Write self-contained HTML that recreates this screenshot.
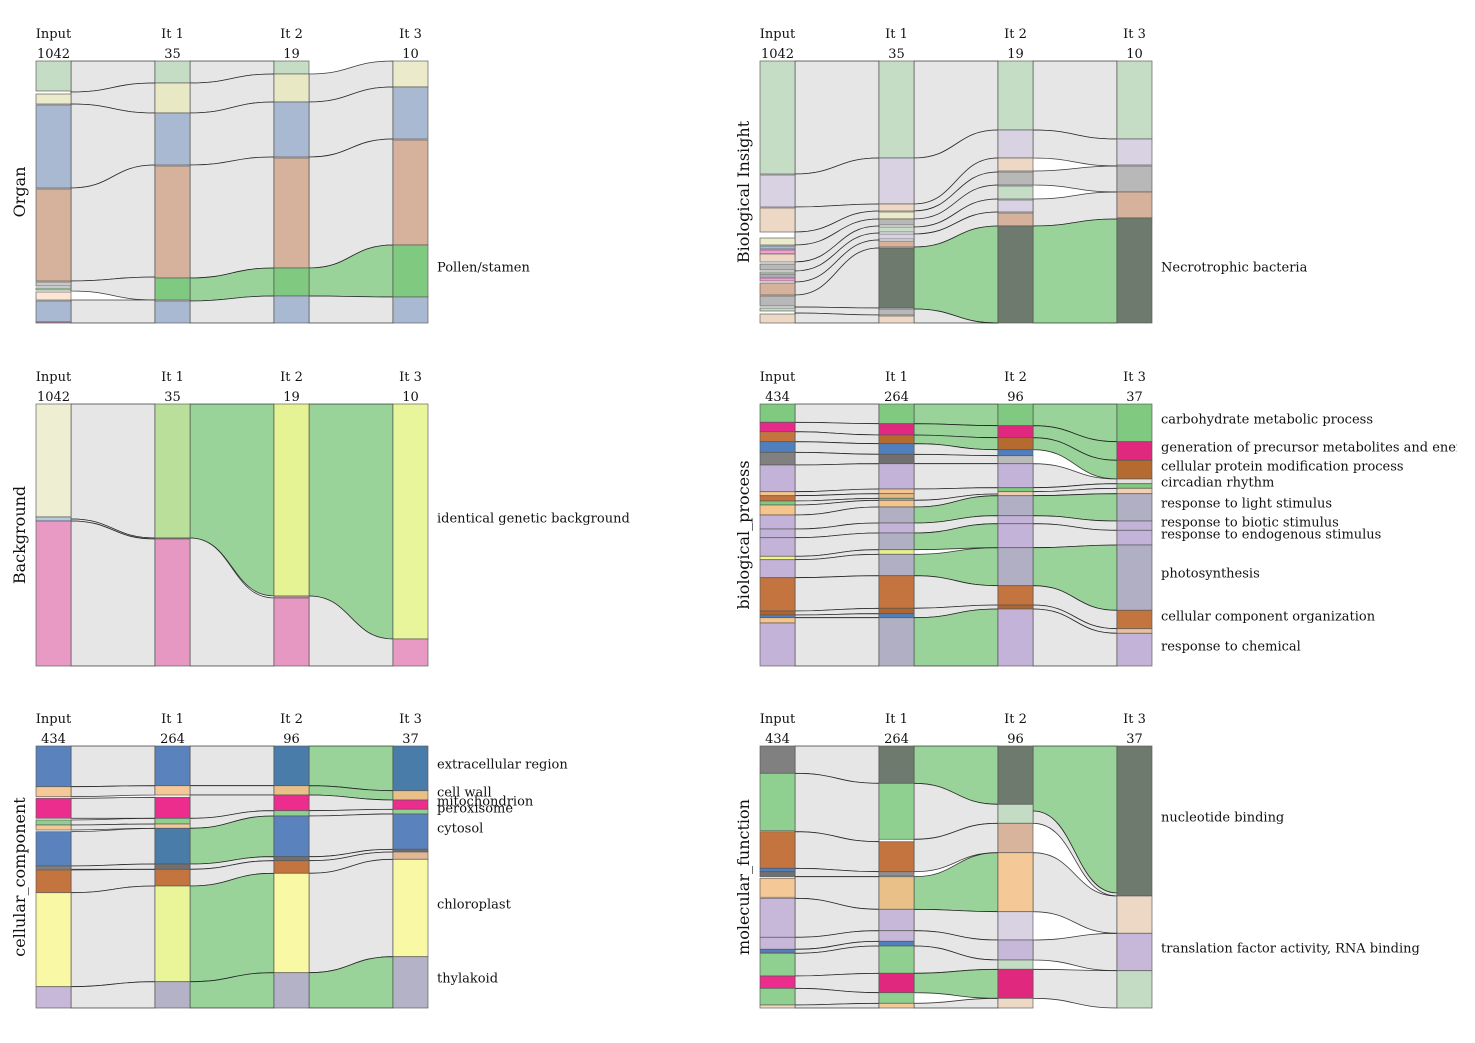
<!DOCTYPE html>
<html><head><meta charset="utf-8"><style>
html,body{margin:0;padding:0;background:#fff;}
svg{display:block;font-family:"DejaVu Serif","Liberation Serif",serif;}
</style></head><body>
<svg id="fig" width="1475" height="1043" viewBox="0 0 1475 1043" xmlns="http://www.w3.org/2000/svg"></svg>
<script>
// ---- data (units: share of column height, 262 = full column) ----
const headers = ["Input","It 1","It 2","It 3"];
const countsA = [1042,35,19,10];
const countsB = [434,264,96,37];

// Panel 1: Organ
const organCols = [
 [[0,30,'#c5dcc5'],[33,43,'#ebebcb'],[44,127,'#a9b9d1'],[128,220,'#d6b29c'],[221,225,'#c8c8c8'],[227,229,'#a8d8a8'],[231,239,'#fde6d6'],[240,261,'#a9b9d1'],[261,262,'#e89ac4']],
 [[0,22,'#c5dcc5'],[22,52,'#e9e8c5'],[52,104,'#a9b9d1'],[105,217,'#d6b29c'],[217,239,'#80c980'],[240,262,'#a9b9d1']],
 [[0,13,'#c5dcc5'],[13,41,'#e9e8c5'],[41,96,'#a9b9d1'],[97,207,'#d6b29c'],[207,235,'#80c980'],[235,262,'#a9b9d1']],
 [[0,26,'#ebebcb'],[26,78,'#a9b9d1'],[79,184,'#d6b29c'],[184,236,'#80c980'],[236,262,'#a9b9d1']]];
const organFlows = [
 [0,0,31,0,22,0],[0,31,43,22,52,0],[0,43,127,52,104,0],[0,127,220,104,216,0],[0,220,230,216,239,0],[0,239,262,239,262,0],
 [1,0,22,0,13,0],[1,22,52,13,41,0],[1,52,104,41,96,0],[1,104,217,96,207,0],[1,217,240,207,235,1],[1,240,262,235,262,0],
 [2,13,41,0,26,0],[2,41,96,26,78,0],[2,96,207,78,184,0],[2,207,235,184,236,1],[2,235,262,236,262,0]];
const organLabels = [["Pollen/stamen",206]];

// Panel 2: Biological Insight
const insightCols = [
 [[0,113,'#c5dcc5'],[114,146,'#d8d2e2'],[147,171,'#ecd8c4'],[177,184,'#ebebcb'],[185,188,'#a9b9d1'],[189,193,'#f4a0cf'],[193,201,'#ecd8c4'],[203,209,'#b8b8b8'],[211,213,'#c5dcc5'],[214,216,'#d8d2e2'],[217,220,'#f4a0cf'],[222,234,'#d6b29c'],[235,245,'#b8b8b8'],[247,250,'#c5dcc5'],[253,262,'#ecd8c4']],
 [[0,97,'#c5dcc5'],[97,143,'#d8d2e2'],[143,150,'#ecd8c4'],[151,158,'#ebebcb'],[158,164,'#b8b8b8'],[166,171,'#c5dcc5'],[173,178,'#d8d2e2'],[180,186,'#d6b29c'],[187,247,'#6e7a6e'],[248,254,'#b8b8b8'],[255,262,'#ecd8c4']],
 [[0,69,'#c5dcc5'],[69,97,'#d8d2e2'],[97,110,'#ecd8c4'],[111,124,'#b8b8b8'],[125,138,'#c5dcc5'],[139,151,'#d8d2e2'],[152,165,'#d6b29c'],[165,262,'#6e7a6e']],
 [[0,78,'#c5dcc5'],[78,104,'#d8d2e2'],[105,131,'#b8b8b8'],[131,157,'#d6b29c'],[157,262,'#6e7a6e']]];
const insightFlows = [
 [0,0,113,0,97,0],[0,113,146,97,143,0],[0,146,171,143,150,0],[0,171,184,150,158,0],[0,184,201,158,165,0],[0,201,210,165,172,0],[0,210,221,172,179,0],[0,221,234,179,187,0],[0,234,246,187,247,0],[0,246,252,247,254,0],[0,252,262,254,262,0],
 [1,0,97,0,69,0],[1,97,143,69,97,0],[1,143,150,97,111,0],[1,150,158,111,124,0],[1,158,166,124,138,0],[1,166,173,138,151,0],[1,173,186,151,165,0],[1,186,248,165,262,1],[1,248,262,262,262,0],
 [2,0,69,0,78,0],[2,69,97,78,105,0],[2,110,124,105,131,0],[2,138,165,131,158,0],[2,165,262,158,262,1]];
const insightLabels = [["Necrotrophic bacteria",206]];

// Panel 3: Background
const bgCols = [
 [[0,113,'#eeeed2'],[113,117,'#b8c8e0'],[117,262,'#e89ac4']],
 [[0,134,'#b9df9a'],[134,135,'#c8a0a0'],[135,262,'#e697c2']],
 [[0,192,'#e5f394'],[192,194,'#c8a0a0'],[194,262,'#e697c2']],
 [[0,235,'#e9f59b'],[235,262,'#e89ac4']]];
const bgFlows = [
 [0,0,115,0,134,0],[0,115,117,134,135,0],[0,117,262,135,262,0],
 [1,0,134,0,192,1],[1,134,262,194,262,0],
 [2,0,192,0,235,1],[2,192,262,235,262,0]];
const bgLabels = [["identical genetic background",114]];

// Panel 4: biological_process
const bpCols = [
 [[0,18.3,'#80c980'],[18.3,27.7,'#e7298a'],[27.7,37.7,'#c4743f'],[37.7,48.3,'#4f7fbe'],[48.3,61,'#808080'],[61,87.7,'#c3b3d8'],[87.7,91.7,'#f5c58e'],[91.7,97,'#c4743f'],[97,101,'#80c980'],[101,111,'#f5c58e'],[111,125,'#c3b3d8'],[125,133.7,'#c3b3d8'],[133.7,152.3,'#c3b3d8'],[152.3,155.7,'#f4f48a'],[155.7,173.7,'#c3b3d8'],[173.7,207,'#c4743f'],[207,211,'#b0652f'],[211,213.7,'#4f7fbe'],[213.7,219,'#f5c58e'],[219,262,'#c3b3d8']],
 [[0,19.7,'#80c980'],[19.7,31,'#e0287f'],[31,39.7,'#b56b30'],[39.7,50.3,'#4f7fbe'],[50.3,59.7,'#707070'],[59.7,85,'#c3b3d8'],[85,89.7,'#f5c58e'],[89.7,94.3,'#e8b888'],[94.3,96.3,'#80c980'],[96.3,103,'#f5c58e'],[103,119,'#b1afc4'],[119,129,'#c3b3d8'],[129,145.7,'#b1afc4'],[145.7,150.3,'#e8f08a'],[150.3,171.7,'#b1afc4'],[171.7,204.3,'#c4743f'],[204.3,209.7,'#b0652f'],[209.7,213.7,'#4f7fbe'],[213.7,262,'#b1afc4']],
 [[0,21.7,'#80c980'],[21.7,33.7,'#e0287f'],[33.7,45.7,'#b56b30'],[45.7,51.7,'#4f7fbe'],[51.7,59.7,'#bbbbbb'],[59.7,83.7,'#c3b3d8'],[83.7,87.7,'#80c980'],[87.7,91.7,'#f0d0b0'],[91.7,111.7,'#b1afc4'],[111.7,119.7,'#c3b3d8'],[119.7,143.7,'#c3b3d8'],[143.7,181.7,'#b1afc4'],[181.7,201,'#c4743f'],[201,205,'#b0652f'],[205,262,'#c3b3d8']],
 [[0,37.7,'#80c980'],[37.7,56.3,'#e0287f'],[56.3,75,'#b56b30'],[75,79.7,'#e0e0e0'],[79.7,84.3,'#80c980'],[84.3,89.7,'#f0d0b0'],[89.7,117,'#b1afc4'],[117,126.3,'#c3b3d8'],[126.3,141,'#c3b3d8'],[141,206.3,'#b1afc4'],[206.3,224.7,'#c4743f'],[224.7,229.3,'#e8c0a0'],[229.3,262,'#c3b3d8']]];
const bpFlows = [
 [0,0,18.3,0,19.7,0],[0,18.3,27.7,19.7,31,0],[0,27.7,37.7,31,39.7,0],[0,37.7,48.3,39.7,50.3,0],[0,48.3,61,50.3,59.7,0],[0,61,87.7,59.7,85,0],[0,87.7,91.7,85,89.7,0],[0,91.7,97,89.7,94.3,0],[0,97,101,94.3,96.3,0],[0,101,111,96.3,103,0],[0,111,125,103,119,0],[0,125,133.7,119,129,0],[0,133.7,152.3,129,145.7,0],[0,152.3,155.7,145.7,150.3,0],[0,155.7,173.7,150.3,171.7,0],[0,173.7,207,171.7,204.3,0],[0,207,211,204.3,209.7,0],[0,211,213.7,209.7,213.7,0],[0,213.7,262,213.7,262,0],
 [1,0,19.7,0,21.7,1],[1,19.7,31,21.7,33.7,1],[1,31,39.7,33.7,45.7,1],[1,39.7,50.3,45.7,51.7,0],[1,50.3,59.7,51.7,59.7,0],[1,59.7,85,59.7,83.7,0],[1,85,96.3,83.7,90,0],[1,96.3,103,90,91.7,0],[1,103,119,91.7,111.7,1],[1,119,129,111.7,119.7,0],[1,129,145.7,119.7,143.7,1],[1,150.3,171.7,143.7,181.7,1],[1,171.7,204.3,181.7,201,0],[1,204.3,213.7,201,205,0],[1,213.7,262,205,262,1],
 [2,0,21.7,0,37.7,1],[2,21.7,33.7,37.7,56.3,1],[2,33.7,45.7,56.3,75,1],[2,59.7,83.7,75,79.7,0],[2,83.7,87.7,79.7,84.3,0],[2,87.7,91.7,84.3,89.7,0],[2,91.7,111.7,89.7,117,1],[2,111.7,119.7,117,126.3,0],[2,119.7,143.7,126.3,141,0],[2,143.7,181.7,141,206.3,1],[2,181.7,201,206.3,224.7,0],[2,201,205,224.7,229.3,0],[2,205,262,229.3,262,0]];
const bpLabels = [["carbohydrate metabolic process",15],["generation of precursor metabolites and energy",43],["cellular protein modification process",62],["circadian rhythm",78],["response to light stimulus",99],["response to biotic stimulus",118],["response to endogenous stimulus",130],["photosynthesis",169],["cellular component organization",212],["response to chemical",242]];

// Panel 5: cellular_component
const ccCols = [
 [[0,40.7,'#5a82bd'],[40.7,50.7,'#f5c898'],[52.3,72.3,'#ec2d8e'],[74,79,'#8fcf8f'],[79,84,'#f5c898'],[85.7,120,'#5a82bd'],[120,123.3,'#808080'],[124,146.7,'#c4743f'],[146.7,240.7,'#f9f9a5'],[240.7,262,'#c7b7d9']],
 [[0,39.7,'#5a82bd'],[39.7,49,'#f5c898'],[51.3,72.3,'#ec2d8e'],[72.3,78,'#8fcf8f'],[78,82.3,'#f5c898'],[82.3,118,'#4a7caa'],[118,123.3,'#707070'],[123.3,140,'#c4743f'],[140,235.7,'#eaf59a'],[235.7,262,'#b3b2c6']],
 [[0,39.7,'#4a7caa'],[39.7,49,'#e8c088'],[49,64.7,'#ec2d8e'],[64.7,70,'#8fcf8f'],[70,110.7,'#5a82bd'],[110.7,114.7,'#707070'],[114.7,127.3,'#c4743f'],[127.3,226.7,'#f9f9a5'],[226.7,262,'#b3b2c6']],
 [[0,44.7,'#4a7caa'],[44.7,54,'#e8c088'],[54,63.3,'#ec2d8e'],[63.3,68,'#8fcf8f'],[68,103.3,'#5a82bd'],[103.3,106,'#707070'],[106,113.3,'#e0b896'],[113.3,210.7,'#f9f9a5'],[210.7,262,'#b3b2c6']]];
const ccFlows = [
 [0,0,40.7,0,39.7,0],[0,40.7,50.7,39.7,49,0],[0,52.3,72.3,51.3,72.3,0],[0,74,79,72.3,78,0],[0,79,84,78,82.3,0],[0,85.7,120,82.3,118,0],[0,120,123.3,118,123.3,0],[0,124,146.7,123.3,140,0],[0,146.7,240.7,140,235.7,0],[0,240.7,262,235.7,262,0],
 [1,0,39.7,0,39.7,0],[1,39.7,49,39.7,49,0],[1,49,72.3,49,64.7,0],[1,72.3,82.3,64.7,70,0],[1,82.3,118,70,110.7,1],[1,118,123.3,110.7,114.7,0],[1,123.3,140,114.7,127.3,0],[1,140,235.7,127.3,226.7,1],[1,235.7,262,226.7,262,1],
 [2,0,39.7,0,44.7,1],[2,39.7,49,44.7,54,1],[2,49,64.7,54,63.3,0],[2,64.7,70,63.3,68,0],[2,70,110.7,68,103.3,0],[2,110.7,114.7,103.3,106,0],[2,114.7,127.3,106,113.3,0],[2,127.3,226.7,113.3,210.7,0],[2,226.7,262,210.7,262,1]];
const ccLabels = [["extracellular region",18],["cell wall",46],["mitochondrion",55],["peroxisome",62],["cytosol",82],["chloroplast",158],["thylakoid",232]];

// Panel 6: molecular_function
const mfCols = [
 [[0,27.3,'#808080'],[27.3,84.7,'#8fcf8f'],[85.7,122.3,'#c4743f'],[122.3,125.7,'#4f7fbe'],[125.7,130.7,'#707070'],[132.3,151.3,'#f5c898'],[152.3,191.3,'#c7b7d9'],[191.3,203.3,'#c7b7d9'],[203.3,206.7,'#4f7fbe'],[207.3,230,'#8fcf8f'],[230,242.3,'#ec2d8e'],[242.3,259,'#8fcf8f'],[259,262,'#f5d8c0']],
 [[0,37.3,'#6e7a6e'],[37.3,93.3,'#8fcf8f'],[95.7,125.7,'#c4743f'],[125.7,130,'#909090'],[130.7,163.3,'#e8c088'],[163.3,184.7,'#c7b7d9'],[184.7,195.3,'#c7b7d9'],[195.3,200,'#4f7fbe'],[200,227.3,'#8fcf8f'],[227.3,246.7,'#e0287f'],[246.7,257.3,'#8fcf8f'],[257.3,262,'#f5c898']],
 [[0,58.3,'#6e7a6e'],[58.3,77.3,'#c3dcc3'],[77.3,106.7,'#d8b49c'],[106.7,165.7,'#f5c898'],[165.7,194,'#d8d2e2'],[194,214,'#c7b7d9'],[214,223.3,'#c3dcc3'],[223.3,252.3,'#e0287f'],[252.3,262,'#ecd8c4']],
 [[0,150,'#6e7a6e'],[150,187.3,'#ecd8c4'],[187.3,224.7,'#c7b7d9'],[224.7,262,'#c3dcc3']]];
const mfFlows = [
 [0,0,27.3,0,37.3,0],[0,27.3,85.7,37.3,95.7,0],[0,85.7,122.3,95.7,125.7,0],[0,122.3,130.7,125.7,130.7,0],[0,130.7,152.3,130.7,163.3,0],[0,152.3,191.3,163.3,184.7,0],[0,191.3,203.3,184.7,195.3,0],[0,203.3,207.3,195.3,200,0],[0,207.3,230,200,227.3,0],[0,230,242.3,227.3,246.7,0],[0,242.3,259,246.7,257.3,0],[0,259,262,257.3,262,0],
 [1,0,37.3,0,58.3,1],[1,37.3,93.3,58.3,77.3,0],[1,93.3,125.7,77.3,106.7,0],[1,130.7,163.3,106.7,165.7,1],[1,163.3,184.7,165.7,194,0],[1,184.7,200,194,214,0],[1,200,227.3,214,223.3,0],[1,227.3,246.7,223.3,252.3,1],[1,257.3,262,252.3,262,0],
 [2,0,65,0,147,1],[2,65,77.3,147,150,0],[2,106.7,165.7,150,187.3,0],[2,194,214,187.3,224.7,0],[2,223.3,252.3,224.7,262,0]];
const mfLabels = [["nucleotide binding",71],["translation factor activity, RNA binding",202]];

// ---- rendering ----
const NS = "http://www.w3.org/2000/svg";
const svg = document.getElementById('fig');
const colX = [0,119,238,357], colW = 35, H = 262;
function mk(tag, attrs, parent){const e=document.createElementNS(NS,tag);for(const k in attrs)e.setAttribute(k,attrs[k]);(parent||svg).appendChild(e);return e;}
function txt(s,x,y,size,anchor,parent){const t=mk('text',{x:x,y:y,'font-size':size,'text-anchor':anchor||'start',fill:'#111'},parent);t.textContent=s;return t;}

function drawPanel(name, px, py, cols, flows, counts, title, labels){
  const g = mk('g',{});
  
  
  const ys = v => py + v*H/262;
  flows.forEach((f,i)=>{
    const [c,s0,s1,d0,d1,hl] = f;
    const x0 = px+colX[c]+colW, x1 = px+colX[c+1], xm=(x0+x1)/2;
    const p = mk('path',{d:`M${x0},${ys(s0)} C${xm},${ys(s0)} ${xm},${ys(d0)} ${x1},${ys(d0)} L${x1},${ys(d1)} C${xm},${ys(d1)} ${xm},${ys(s1)} ${x0},${ys(s1)} Z`,
      fill: hl?'#99d399':'#e6e6e6', stroke:'#1a1a1a','stroke-width':0.8,'stroke-opacity':0.85}, g);
    
    
  });
  cols.forEach((col,ci)=>{
    col.forEach(b=>{
      const r = mk('rect',{x:px+colX[ci], y:ys(b[0]), width:colW, height:Math.max(0.5,ys(b[1])-ys(b[0])), fill:b[2], stroke:'#555', 'stroke-width':0.8,'stroke-opacity':0.8}, g);
      
      
    });
  });
  headers.forEach((h,i)=>{
    const cx = px+colX[i]+colW/2;
    const t1 = txt(h, cx, py-23, 13, 'middle', g);
    
    
    const t2 = txt(String(counts[i]), cx, py-3, 13, 'middle', g);
    
    
  });
  const cy = py+H/2;
  const tt = mk('text',{x:0,y:0,'font-size':16,'text-anchor':'middle',fill:'#111',transform:`translate(${px-11},${cy}) rotate(-90)`}, g);
  tt.textContent = title;
  
  
  labels.forEach(l=>{
    const t = txt(l[0], px+colX[3]+colW+9, ys(l[1])+4.5, 13, 'start', g);
    
    
  });
}
drawPanel('organ', 36, 61, organCols, organFlows, countsA, 'Organ', organLabels);
drawPanel('biological-insight', 760, 61, insightCols, insightFlows, countsA, 'Biological Insight', insightLabels);
drawPanel('background', 36, 404, bgCols, bgFlows, countsA, 'Background', bgLabels);
drawPanel('biological-process', 760, 404, bpCols, bpFlows, countsB, 'biological_process', bpLabels);
drawPanel('cellular-component', 36, 746, ccCols, ccFlows, countsB, 'cellular_component', ccLabels);
drawPanel('molecular-function', 760, 746, mfCols, mfFlows, countsB, 'molecular_function', mfLabels);
const clip = mk('rect',{x:1457,y:0,width:18,height:1043,fill:'#fff'});


</script>
</body></html>
